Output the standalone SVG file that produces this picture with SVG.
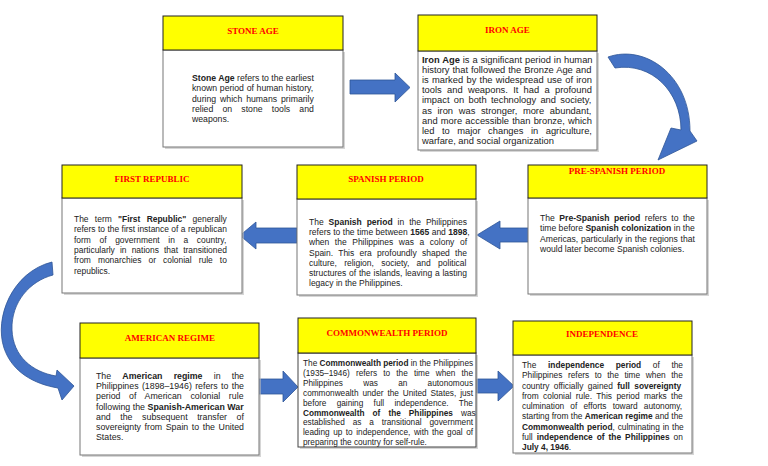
<svg xmlns="http://www.w3.org/2000/svg" width="768" height="466" viewBox="0 0 768 466">
<style>
.hdr{fill:#FFFF00;stroke:#222;stroke-width:1}
.body{fill:#fff;stroke:#777;stroke-width:1}
.shd{fill:#bbb;opacity:0.6}
.ttl{font-family:"Liberation Serif","Times New Roman",serif;font-weight:bold;font-size:9px;fill:#FF0000;text-anchor:middle}
.txt{font-family:"Liberation Sans",Arial,sans-serif;fill:#222}
.b{font-weight:bold}
.arr{fill:#4472C4;stroke:#2F5597;stroke-width:0.8}
</style>
<rect width="768" height="466" fill="#fff"/>

<g id="connectors">
<polygon class="arr" points="350,80 395,80 395,73 410,87.5 395,102 395,94 350,94"/>
<path class="arr" d="M608,57 C645,44 690,75 690,131 L697,141 L658,160 L671,128 L681,130 C681,92 652,62 615,68 Z"/>
<polygon class="arr" points="529,228 500,228 500,221 477,235 500,249 500,242 529,242"/>
<polygon class="arr" points="297,228 256,228 256,222 240,235.5 256,249 256,243 297,243"/>
<path class="arr" d="M52,262 C12,272 -6,318 4,348 C12,372 34,384 58,388 L62,400 L74,386 L57,370 L56,376 C32,372 13,356 12,330 C11,302 30,281 53,275 Z"/>
<polygon class="arr" points="258,379 283,379 283,371 298,387 283,402 283,394 258,394"/>
<polygon class="arr" points="477,379 498,379 498,371 514,386 498,401 498,393 477,393"/>
</g>

<g id="stone-age">
<rect class="shd" x="165" y="52" width="180" height="97"/>
<rect class="body" x="163" y="50" width="180" height="97"/>
<rect class="hdr" x="163" y="16" width="180" height="34"/>
<text class="ttl" x="253" y="34">STONE AGE</text>
<g class="txt" font-size="8.7">
<text x="192" y="81"><tspan class="b">Stone Age</tspan> refers to the earliest</text>
<text x="192" y="91.3" word-spacing="0.28">known period of human history,</text>
<text x="192" y="101.6" word-spacing="1.5">during which humans primarily</text>
<text x="192" y="111.9" word-spacing="6.8">relied on stone tools and</text>
<text x="192" y="122.2">weapons.</text>
</g>
</g>

<g id="iron-age">
<rect class="shd" x="420" y="53" width="179" height="99"/>
<rect class="body" x="418" y="51" width="179" height="99"/>
<rect class="hdr" x="418" y="15" width="179" height="36"/>
<text class="ttl" x="507.5" y="33">IRON AGE</text>
<g class="txt" font-size="9.35">
<text x="422" y="63" word-spacing="0.3"><tspan class="b">Iron Age</tspan> is a significant period in human</text>
<text x="422" y="73.1" word-spacing="0.35">history that followed the Bronze Age and</text>
<text x="422" y="83.2" word-spacing="0.67">is marked by the widespread use of iron</text>
<text x="422" y="93.3" word-spacing="2.68">tools and weapons. It had a profound</text>
<text x="422" y="103.4" word-spacing="1.68">impact on both technology and society,</text>
<text x="422" y="113.5" word-spacing="3.02">as iron was stronger, more abundant,</text>
<text x="422" y="123.6" word-spacing="0.64">and more accessible than bronze, which</text>
<text x="422" y="133.7" word-spacing="4.9">led to major changes in agriculture,</text>
<text x="422" y="143.8">warfare, and social organization</text>
</g>
</g>

<g id="pre-spanish-period">
<rect class="shd" x="530" y="200" width="179" height="96"/>
<rect class="body" x="528" y="198" width="179" height="96"/>
<rect class="hdr" x="528" y="165" width="179" height="33"/>
<text class="ttl" x="617" y="174">PRE-SPANISH PERIOD</text>
<g class="txt" font-size="8.6">
<text x="540" y="221" word-spacing="2.13">The <tspan class="b">Pre-Spanish period</tspan> refers to the</text>
<text x="540" y="231.4">time before <tspan class="b">Spanish colonization</tspan> in the</text>
<text x="540" y="241.8" word-spacing="0.42">Americas, particularly in the regions that</text>
<text x="540" y="252.2">would later become Spanish colonies.</text>
</g>
</g>

<g id="spanish-period">
<rect class="shd" x="299" y="201" width="179" height="96"/>
<rect class="body" x="297" y="199" width="179" height="96"/>
<rect class="hdr" x="297" y="165" width="179" height="34"/>
<text class="ttl" x="386" y="182">SPANISH PERIOD</text>
<g class="txt" font-size="8.5">
<text x="309" y="225" word-spacing="2.6">The <tspan class="b">Spanish period</tspan> in the Philippines</text>
<text x="309" y="235.2" word-spacing="0.12">refers to the time between <tspan class="b">1565</tspan> and <tspan class="b">1898</tspan>,</text>
<text x="309" y="245.4" word-spacing="3.18">when the Philippines was a colony of</text>
<text x="309" y="255.6" word-spacing="2.88">Spain. This era profoundly shaped the</text>
<text x="309" y="265.8" word-spacing="4.9">culture, religion, society, and political</text>
<text x="309" y="276" word-spacing="0.43">structures of the islands, leaving a lasting</text>
<text x="309" y="286.2">legacy in the Philippines.</text>
</g>
</g>

<g id="first-republic">
<rect class="shd" x="64" y="200" width="180" height="95"/>
<rect class="body" x="62" y="198" width="180" height="95"/>
<rect class="hdr" x="62" y="165" width="180" height="33"/>
<text class="ttl" x="152" y="182">FIRST REPUBLIC</text>
<g class="txt" font-size="8.45">
<text x="74" y="222" word-spacing="3.97">The term <tspan class="b">"First Republic"</tspan> generally</text>
<text x="74" y="232.3" word-spacing="0.06">refers to the first instance of a republican</text>
<text x="74" y="242.6" word-spacing="6.28">form of government in a country,</text>
<text x="74" y="252.9" word-spacing="2.8">particularly in nations that transitioned</text>
<text x="74" y="263.2" word-spacing="4.68">from monarchies or colonial rule to</text>
<text x="74" y="273.5">republics.</text>
</g>
</g>

<g id="american-regime">
<rect class="shd" x="82" y="360" width="179" height="97"/>
<rect class="body" x="80" y="358" width="179" height="97"/>
<rect class="hdr" x="80" y="323" width="179" height="35"/>
<text class="ttl" x="170" y="341">AMERICAN REGIME</text>
<g class="txt" font-size="8.8">
<text x="96" y="379" word-spacing="8.75">The <tspan class="b">American regime</tspan> in the</text>
<text x="96" y="389.2" word-spacing="0.93">Philippines (1898–1946) refers to the</text>
<text x="96" y="399.4" word-spacing="6.2">period of American colonial rule</text>
<text x="96" y="409.6" word-spacing="0.1">following the <tspan class="b">Spanish-American War</tspan></text>
<text x="96" y="419.8" word-spacing="7.15">and the subsequent transfer of</text>
<text x="96" y="430" word-spacing="1.14">sovereignty from Spain to the United</text>
<text x="96" y="440.2">States.</text>
</g>
</g>

<g id="commonwealth-period">
<rect class="shd" x="300" y="355" width="178" height="94"/>
<rect class="body" x="298" y="353" width="178" height="94" style="stroke:#444"/>
<rect class="hdr" x="298" y="318" width="178" height="35"/>
<text class="ttl" x="387" y="336">COMMONWEALTH PERIOD</text>
<g class="txt" font-size="8.25">
<text x="303" y="366">The <tspan class="b">Commonwealth period</tspan> in the Philippines</text>
<text x="303" y="375.9" word-spacing="3.88">(1935–1946) refers to the time when the</text>
<text x="303" y="385.8" word-spacing="18">Philippines was an autonomous</text>
<text x="303" y="395.7" word-spacing="1.62">commonwealth under the United States, just</text>
<text x="303" y="405.6" word-spacing="8">before gaining full independence. The</text>
<text x="303" y="415.5" word-spacing="5.8"><tspan class="b">Commonwealth of the Philippines</tspan> was</text>
<text x="303" y="425.4" word-spacing="5.6">established as a transitional government</text>
<text x="303" y="435.3" word-spacing="1.23">leading up to independence, with the goal of</text>
<text x="303" y="445.2">preparing the country for self-rule.</text>
</g>
</g>

<g id="independence">
<rect class="shd" x="515" y="357" width="179" height="98"/>
<rect class="body" x="513" y="355" width="179" height="98"/>
<rect class="hdr" x="513" y="321" width="179" height="34"/>
<text class="ttl" x="602" y="337">INDEPENDENCE</text>
<g class="txt" font-size="8.35">
<text x="522" y="368" word-spacing="9.3">The <tspan class="b">independence period</tspan> of the</text>
<text x="522" y="378.25" word-spacing="3.23">Philippines refers to the time when the</text>
<text x="522" y="388.5" word-spacing="2.13">country officially gained <tspan class="b">full sovereignty</tspan></text>
<text x="522" y="398.75" word-spacing="2.08">from colonial rule. This period marks the</text>
<text x="522" y="409" word-spacing="3.83">culmination of efforts toward autonomy,</text>
<text x="522" y="419.25" word-spacing="0.07">starting from the <tspan class="b">American regime</tspan> and the</text>
<text x="522" y="429.5" word-spacing="0.55"><tspan class="b">Commonwealth period</tspan>, culminating in the</text>
<text x="522" y="439.75" word-spacing="1.66">full <tspan class="b">independence of the Philippines</tspan> on</text>
<text x="522" y="450"><tspan class="b">July 4, 1946</tspan>.</text>
</g>
</g>
</svg>
